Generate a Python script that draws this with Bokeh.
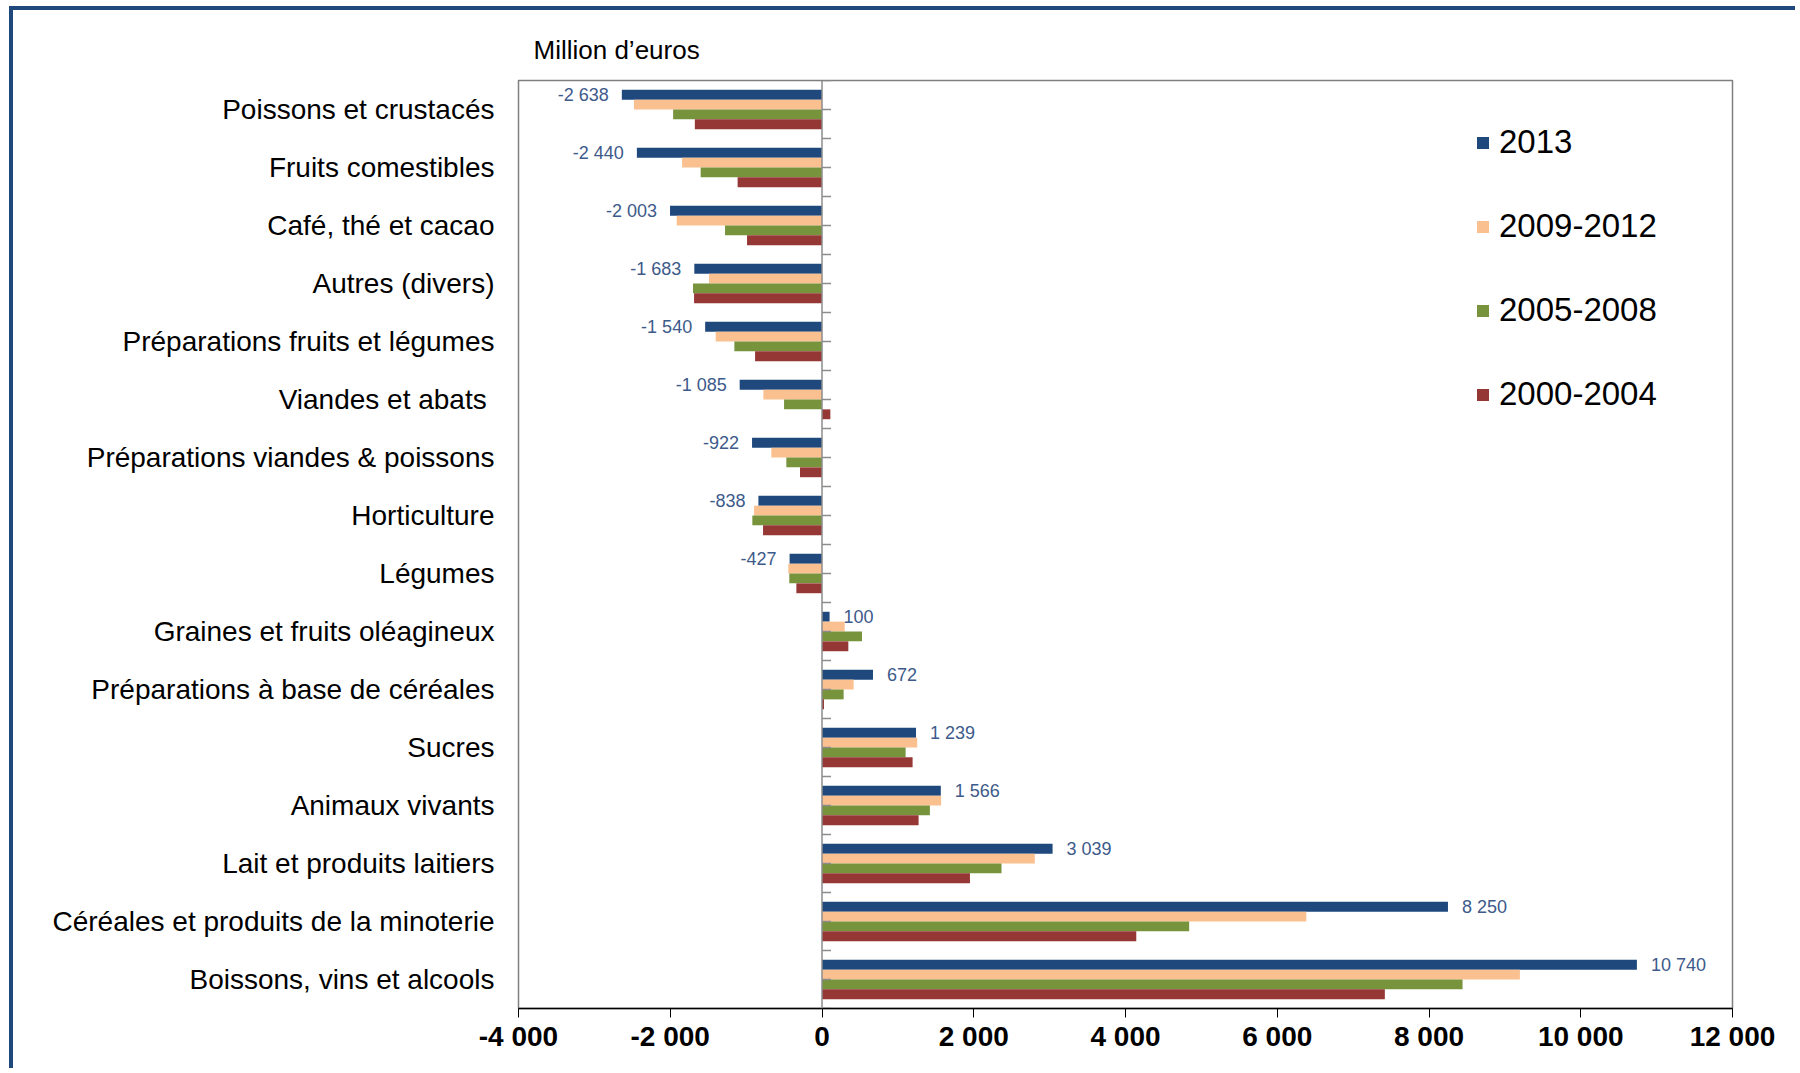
from bokeh.plotting import figure
from bokeh.models import (ColumnDataSource, FactorRange, Range1d, FixedTicker,
                          Legend, LegendItem, Span)
from bokeh.transform import dodge
from bokeh.core.properties import value
from bokeh.embed import file_html
from bokeh.resources import INLINE

categories = [
    "Poissons et crustacés",
    "Fruits comestibles",
    "Café, thé et cacao",
    "Autres (divers)",
    "Préparations fruits et légumes",
    "Viandes et abats ",
    "Préparations viandes & poissons",
    "Horticulture",
    "Légumes",
    "Graines et fruits oléagineux",
    "Préparations à base de céréales",
    "Sucres",
    "Animaux vivants",
    "Lait et produits laitiers",
    "Céréales et produits de la minoterie",
    "Boissons, vins et alcools",
]
s2013 = [-2638, -2440, -2003, -1683, -1540, -1085, -922, -838, -427, 100, 672, 1239, 1566, 3039, 8250, 10740]
s2009_2012 = [-2478, -1844, -1915, -1489, -1401, -773, -668, -896, -444, 299, 417, 1255, 1570, 2805, 6383, 9198]
s2005_2008 = [-1962, -1599, -1278, -1700, -1155, -500, -470, -918, -431, 527, 285, 1102, 1422, 2366, 4839, 8442]
s2000_2004 = [-1676, -1112, -988, -1686, -882, 110, -290, -777, -338, 347, 26, 1194, 1273, 1950, 4142, 7418]
series_names = ["2013", "2009-2012", "2005-2008", "2000-2004"]
series_colors = ["#1F497D", "#FAC090", "#77933C", "#953735"]
x_ticks = [-4000, -2000, 0, 2000, 4000, 6000, 8000, 10000, 12000]
x_tick_labels = ["-4 000", "-2 000", "0", "2 000", "4 000", "6 000", "8 000", "10 000", "12 000"]
labels_2013 = [f"{v:,}".replace(",", " ") for v in s2013]

FONT = "Liberation Sans"

src = ColumnDataSource(dict(
    cat=categories, s2013=s2013, s2009=s2009_2012, s2005=s2005_2008, s2000=s2000_2004,
    lab=labels_2013,
    align=["right" if v < 0 else "left" for v in s2013],
    xoff=[-13 if v < 0 else 14 for v in s2013],
))

W, H = 1786, 1062
p = figure(width=W, height=H, output_backend="svg", toolbar_location=None,
           y_range=FactorRange(*list(reversed(categories))),
           x_range=Range1d(-4000, 12000),
           min_border_left=505, min_border_top=70, min_border_right=67, min_border_bottom=64)

p.styles = {"margin-top": "6px", "margin-left": "9px",
            "border-top": "4px solid #1F497D", "border-left": "4px solid #1F497D"}

p.title.text = "Million d\u2019euros"
p.title.text_font = FONT
p.title.text_font_size = "26px"
p.title.text_font_style = "normal"
p.title.offset = 15
p.title.standoff = 31
p.title.text_color = "#000000"

offsets = [0.255, 0.085, -0.085, -0.255]
fields = ["s2013", "s2009", "s2005", "s2000"]
renderers = []
for f, off, col in zip(fields, offsets, series_colors):
    r = p.hbar(y=dodge("cat", off, range=p.y_range), left=0, right=f, height=0.17,
               source=src, fill_color=col, line_color=None)
    renderers.append(r)

p.text(x="s2013", y=dodge("cat", 0.255, range=p.y_range), text="lab", source=src,
       text_align="align", x_offset="xoff", text_baseline="middle",
       text_font=value(FONT), text_font_size="18px", text_color="#3D5A8A")

# zero line with small ticks at category centres and boundaries
p.add_layout(Span(location=0, dimension="height", line_color="#8C8C8C", line_width=1.5))
tick_pos = [i * 0.5 for i in range(2 * len(categories) + 1)]
p.ray(x=[0] * len(tick_pos), y=tick_pos, length=9, length_units="screen", angle=0,
      line_color="#8C8C8C", line_width=1.5)

# x axis
p.xaxis.ticker = FixedTicker(ticks=x_ticks)
p.xaxis.major_label_overrides = {t: l for t, l in zip(x_ticks, x_tick_labels)}
p.xaxis.major_label_text_font = FONT
p.xaxis.major_label_text_font_style = "bold"
p.xaxis.major_label_text_font_size = "28px"
p.xaxis.major_label_text_color = "#000000"
p.xaxis.axis_line_color = "#000000"
p.xaxis.axis_line_width = 1.5
p.xaxis.major_tick_line_color = "#000000"
p.xaxis.major_tick_out = 9
p.xaxis.major_tick_in = 0
p.xaxis.minor_tick_line_color = None
p.xaxis.major_label_standoff = 3

# category axis
cax = p.yaxis[0]
cax.axis_line_color = None
cax.major_tick_line_color = None
cax.minor_tick_line_color = None
cax.major_label_text_font = FONT
cax.major_label_text_font_size = "28px"
cax.major_label_text_color = "#000000"
cax.major_label_standoff = 18

p.xgrid.grid_line_color = None
p.ygrid.grid_line_color = None
p.outline_line_color = "#7F7F7F"
p.outline_line_width = 1.5
p.background_fill_color = "white"
p.border_fill_color = "white"

legend = Legend(items=[LegendItem(label=n, renderers=[r]) for n, r in zip(series_names, renderers)],
                location=(957, 594), orientation="vertical",
                glyph_width=15, glyph_height=15, label_height=40, label_text_font=FONT,
                label_text_font_size="33px", label_text_color="#000000",
                spacing=44, padding=0, margin=0, border_line_color=None,
                background_fill_alpha=0, label_standoff=9)
p.add_layout(legend)

open("out.html", "w").write(file_html(p, INLINE))
